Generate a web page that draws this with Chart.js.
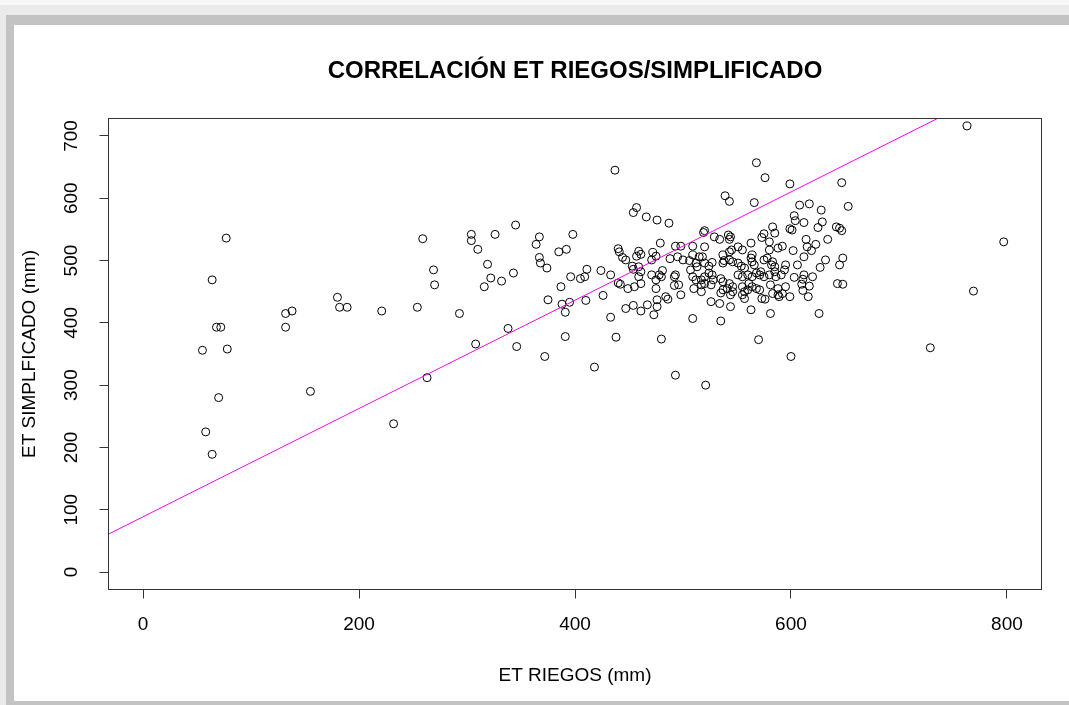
<!DOCTYPE html>
<html>
<head>
<meta charset="utf-8">
<script src="https://cdn.jsdelivr.net/npm/chart.js@4.4.0/dist/chart.umd.min.js"></script>
<style>
  html, body { margin: 0; padding: 0; width: 1069px; height: 705px; overflow: hidden; background: #eaeaea; }
  #topband { position: absolute; left: 0; top: 0; width: 1069px; height: 5px; background: #f6f6f6; }
  #shade { position: absolute; left: 6px; top: 15px; right: 0; bottom: 0; background: #c3c3c3; }
  #card { position: absolute; left: 14px; top: 25px; right: 0; bottom: 4px; background: #ffffff; }
  #chart { position: absolute; left: 0; top: 0; }
</style>
</head>
<body>
<div id="topband"></div>
<div id="shade"></div>
<div id="card"></div>
<canvas id="chart" width="1069" height="705"></canvas>
<script>
// ET from irrigation records (mm) against simplified ET (mm), one pair per plot
const etRiegos = [
  77, 64, 68, 72, 55, 78, 70, 58, 64, 132, 138, 132, 180, 182, 189, 221, 155, 232,
  259, 269, 270, 254, 263, 304, 304, 310, 326, 345, 319, 322, 316, 332, 343, 293, 308, 338, 346,
  367, 364, 367, 368, 374, 385, 392, 398, 375, 387, 388, 395, 391, 391, 372, 396, 405, 409, 411, 410, 418,
  437, 457, 454, 466, 476, 487,
  479, 493, 498, 509, 440, 441, 459, 461, 472, 444, 457, 475, 488, 495, 509, 515, 447, 453, 454, 459,
  471, 500, 506, 512, 461, 481, 493, 507, 513, 459, 471, 478, 480, 492, 509, 440, 442, 461, 455, 475,
  496, 512, 449, 475, 492, 426, 498, 484, 486, 476, 467, 454, 447, 476, 461, 473, 433, 509, 424, 433,
  438, 480, 493, 521, 535, 570, 600,
  568, 576, 539, 543, 566,
  520, 519, 529, 542, 544, 543, 534, 520, 563, 583, 575, 585, 573, 580, 588, 580, 537, 543, 545, 551,
  555, 564, 518, 520, 524, 527, 537, 538, 543, 546, 551, 554, 557, 563, 564, 566, 575, 578, 583, 582,
  585, 595, 594, 517, 520, 524, 527, 528, 535, 537, 543, 546, 551, 555, 560, 564, 568, 571, 572, 575,
  580, 585, 586, 591, 510, 517, 520, 526, 537, 541, 544, 555, 557, 560, 561, 564, 568, 581, 583, 588,
  592, 595, 517, 535, 546, 571, 573, 526, 534, 544, 555, 557, 576, 588, 589, 563, 581,
  599, 647, 653, 608, 617, 628, 603, 604, 612, 629, 625, 599, 601, 642, 645, 647, 634, 614, 615, 592,
  602, 623, 619, 612, 632, 648, 645, 606, 627, 603, 612, 611, 620, 617, 610, 611, 616, 599, 643, 648, 626,
  763, 797, 769, 729
];
const etSimplificado = [
  536, 469, 393, 393, 356, 358, 280, 225, 189, 415, 419, 393, 441, 425, 425, 419, 290, 238,
  535, 485, 461, 425, 312, 542, 532, 518, 542, 557, 494, 472, 458, 467, 480, 415, 366, 391, 362,
  538, 526, 505, 496, 488, 514, 518, 542, 437, 458, 430, 433, 417, 378, 346, 474, 471, 474, 486, 436, 329,
  645, 585, 577, 570, 565, 560,
  528, 523, 523, 523, 519, 514, 515, 510, 513, 505, 507, 507, 503, 506, 509, 506, 501, 491, 486, 490,
  501, 501, 500, 496, 482, 484, 477, 485, 490, 474, 477, 477, 474, 474, 474, 464, 462, 463, 458, 469,
  461, 469, 455, 455, 460, 444, 445, 442, 438, 437, 429, 428, 423, 426, 419, 413, 409, 407, 484, 477,
  377, 374, 316, 300, 403, 373, 346,
  657, 633, 604, 595, 593,
  548, 545, 538, 541, 538, 534, 534, 522, 528, 554, 543, 544, 537, 530, 520, 517, 509, 514, 517, 522,
  517, 509, 506, 496, 491, 497, 496, 500, 501, 498, 496, 491, 488, 504, 498, 493, 501, 504, 498, 493,
  490, 493, 485, 469, 474, 480, 477, 469, 471, 466, 463, 458, 477, 474, 477, 474, 480, 477, 482, 474,
  477, 482, 474, 477, 455, 461, 463, 461, 453, 455, 445, 458, 450, 453, 463, 458, 455, 461, 447, 455,
  447, 458, 450, 448, 450, 453, 439, 434, 431, 426, 445, 439, 438, 445, 442, 421, 415,
  623, 625, 587, 589, 591, 581, 572, 564, 561, 562, 553, 551, 549, 554, 552, 548, 534, 534, 522, 523,
  516, 526, 516, 506, 501, 504, 493, 493, 489, 473, 477, 470, 474, 459, 462, 452, 442, 442, 463, 462, 415,
  716, 530, 451, 360
];

// Least-squares fit line drawn across the plot
const fitIntercept = 88.7;
const fitSlope = 0.869;

// Axis extents and tick labels
const xRange = [-32, 832];
const yRange = [-28, 728];
const xTicks = [0, 200, 400, 600, 800];
const yTicks = [0, 100, 200, 300, 400, 500, 600, 700];

const FONT = "'Liberation Sans', Arial, Helvetica, sans-serif";
const AXIS_GREY = '#333333';

const scatterPoints = etRiegos.map((x, i) => ({ x: x, y: etSimplificado[i] }));
const fitPoints = xRange.map(x => ({ x: x, y: fitIntercept + fitSlope * x }));

// Frame around the plotting region
const plotBox = {
  id: 'plotBox',
  afterDatasetsDraw(chart) {
    const { ctx, chartArea: a } = chart;
    ctx.save();
    ctx.strokeStyle = AXIS_GREY;
    ctx.lineWidth = 1;
    ctx.strokeRect(a.left, a.top, a.right - a.left, a.bottom - a.top);
    ctx.restore();
  }
};

new Chart(document.getElementById('chart'), {
  data: {
    datasets: [
      {
        type: 'line',
        label: 'Ajuste',
        data: fitPoints,
        borderColor: '#ff00ff',
        borderWidth: 1,
        pointRadius: 0,
        fill: false,
        tension: 0
      },
      {
        type: 'scatter',
        label: 'ET',
        data: scatterPoints,
        pointStyle: 'circle',
        pointRadius: 4,
        pointBorderWidth: 1,
        pointBorderColor: '#000000',
        pointBackgroundColor: 'rgba(0,0,0,0)',
        clip: false
      }
    ]
  },
  options: {
    responsive: false,
    animation: false,
    devicePixelRatio: 1,
    events: [],
    layout: { padding: { left: 0, right: 27.5, top: 0, bottom: 0 } },
    plugins: {
      legend: { display: false },
      tooltip: { enabled: false },
      title: {
        display: true,
        fullSize: false,
        text: 'CORRELACIÓN ET RIEGOS/SIMPLIFICADO',
        color: '#000000',
        font: { family: FONT, size: 24, weight: 'bold' },
        padding: { top: 56.6, bottom: 33.1 }
      }
    },
    scales: {
      x: {
        type: 'linear',
        position: 'bottom',
        min: xRange[0],
        max: xRange[1],
        afterBuildTicks: s => { s.ticks = xTicks.map(v => ({ value: v })); },
        afterFit: s => { s.height = 115.5; },
        ticks: {
          autoSkip: false,
          maxRotation: 0,
          color: '#000000',
          padding: 15.1,
          font: { family: FONT, size: 19 }
        },
        grid: {
          drawOnChartArea: false,
          drawTicks: true,
          tickLength: 9,
          color: AXIS_GREY,
          tickColor: AXIS_GREY,
          lineWidth: 1
        },
        border: { display: false },
        title: {
          display: true,
          text: 'ET RIEGOS (mm)',
          color: '#000000',
          font: { family: FONT, size: 19 },
          padding: { top: 0, bottom: 17.6 }
        }
      },
      y: {
        type: 'linear',
        position: 'left',
        min: yRange[0],
        max: yRange[1],
        afterBuildTicks: s => { s.ticks = yTicks.map(v => ({ value: v })); },
        afterFit: s => { s.width = 108.5; },
        ticks: {
          autoSkip: false,
          minRotation: 90,
          maxRotation: 90,
          crossAlign: 'center',
          color: '#000000',
          padding: 11.7,
          font: { family: FONT, size: 19 }
        },
        grid: {
          drawOnChartArea: false,
          drawTicks: true,
          tickLength: 9,
          color: AXIS_GREY,
          tickColor: AXIS_GREY,
          lineWidth: 1
        },
        border: { display: false },
        title: {
          display: true,
          text: 'ET SIMPLFICADO (mm)',
          color: '#000000',
          font: { family: FONT, size: 19 },
          padding: { top: 18.6, bottom: 0 }
        }
      }
    }
  },
  plugins: [plotBox]
});
</script>
</body>
</html>
